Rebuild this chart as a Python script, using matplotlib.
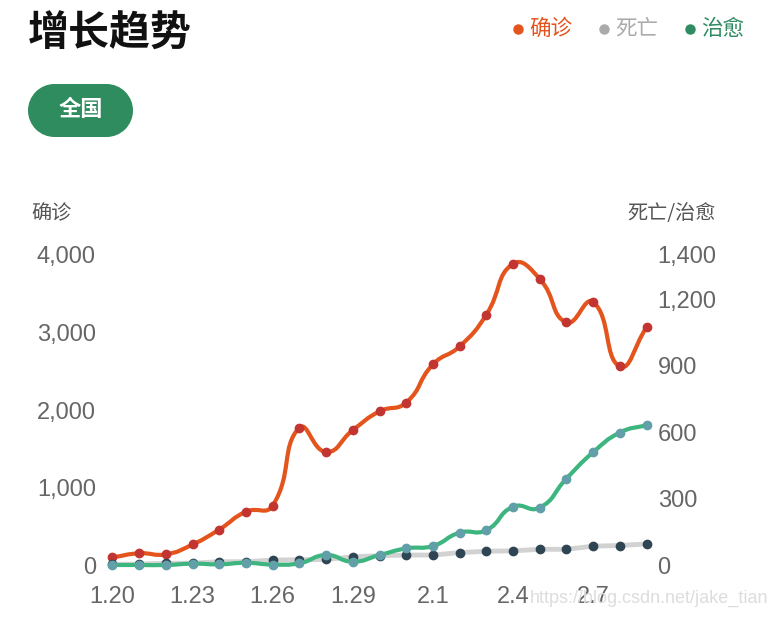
import matplotlib
matplotlib.use('Agg')
import matplotlib.pyplot as plt
from matplotlib.path import Path
from matplotlib.patches import PathPatch, Ellipse, Rectangle
import numpy as np

dates = ['1.20', '1.21', '1.22', '1.23', '1.24', '1.25', '1.26', '1.27', '1.28', '1.29',
         '1.30', '1.31', '2.1', '2.2', '2.3', '2.4', '2.5', '2.6', '2.7', '2.8', '2.9']
confirmed = [98, 151, 138, 265, 458, 688, 767, 1771, 1459, 1740, 1982, 2096, 2588, 2820,
             3230, 3886, 3692, 3130, 3394, 2562, 3065]
deaths = [3, 4, 8, 8, 15, 15, 22, 24, 25, 37, 42, 45, 45, 56, 62, 64, 71, 71, 85, 88, 95]
recovered = [0, 0, 0, 6, 3, 10, 2, 8, 45, 15, 45, 75, 86, 146, 157, 263, 259, 390, 509, 598, 632]
left_ticks = [0, 1000, 2000, 3000, 4000]
right_ticks = [0, 300, 600, 900, 1200, 1400]
xtick_idx = [0, 3, 6, 9, 12, 15, 18]

W, H = 777, 617
fig = plt.figure(figsize=(W / 100, H / 100), dpi=100)
fig.patch.set_facecolor('white')

CJK = ['Noto Sans CJK SC', 'DejaVu Sans']
NUM = ['Liberation Sans', 'Noto Sans CJK SC', 'DejaVu Sans']


def fx(px):
    return px / W


def fy(py):
    return 1 - py / H


left, right, top, bottom = 112.5, 646.5, 255, 565
ax = fig.add_axes([fx(left), fy(bottom), fx(right - left), (bottom - top) / H])
ax2 = ax.twinx()
x = np.arange(len(dates))
for a in (ax, ax2):
    a.set_xlim(0, len(dates) - 1)
    for s in a.spines.values():
        s.set_visible(False)
    a.patch.set_visible(False)
ax.set_ylim(0, 4000)
ax2.set_ylim(0, 1400)


def smooth_path(a, xs, ys, smooth=0.5):
    pts = a.transData.transform(np.column_stack([xs, ys]))
    n = len(pts)
    cps_in, cps_out = [], []
    for i in range(n):
        p = pts[i]
        prev = pts[i - 1] if i > 0 else p
        nxt = pts[i + 1] if i < n - 1 else p
        v = nxt - prev
        d0 = np.hypot(*(p - prev))
        d1 = np.hypot(*(nxt - p))
        s = d0 + d1
        if s > 0:
            d0, d1 = d0 / s, d1 / s
        cps_in.append(p - v * smooth * d0)
        cps_out.append(p + v * smooth * d1)
    verts = [pts[0]]
    codes = [Path.MOVETO]
    for i in range(n - 1):
        verts += [cps_out[i], cps_in[i + 1], pts[i + 1]]
        codes += [Path.CURVE4] * 3
    verts = a.transData.inverted().transform(np.array(verts))
    return Path(verts, codes)


fig.canvas.draw()

# confirmed (left axis)
ax.add_patch(PathPatch(smooth_path(ax, x, confirmed), fill=False, edgecolor='#e4541d',
                       lw=3.0, capstyle='round', joinstyle='round', clip_on=False, zorder=2))
ax.plot(x, confirmed, ls='none', marker='o', ms=6, mfc='#c23531', mec='#c23531',
        clip_on=False, zorder=3)

# deaths (right axis), straight line
ax2.plot(x, deaths, color='#d2d2d2', lw=3.5, solid_capstyle='round', clip_on=False, zorder=1)
ax2.plot(x, deaths, ls='none', marker='o', ms=6, mfc='#2f4554', mec='#2f4554',
         clip_on=False, zorder=2)

# recovered (right axis), smooth
ax2.add_patch(PathPatch(smooth_path(ax2, x, recovered), fill=False, edgecolor='#3db57e',
                        lw=3.0, capstyle='round', joinstyle='round', clip_on=False, zorder=3))
ax2.plot(x, recovered, ls='none', marker='o', ms=6, mfc='#61a0a8', mec='#61a0a8',
         clip_on=False, zorder=4)

# ticks
ax.set_xticks(xtick_idx)
ax.set_xticklabels([dates[i] for i in xtick_idx])
ax.set_yticks(left_ticks)
ax.set_yticklabels([f'{v:,}' for v in left_ticks])
ax2.set_yticks(right_ticks)
ax2.set_yticklabels([f'{v:,}' for v in right_ticks])
ax.tick_params(axis='x', length=0, pad=15, labelsize=17, labelcolor='#666666')
ax.tick_params(axis='y', length=0, pad=12, labelsize=17, labelcolor='#666666')
ax2.tick_params(axis='y', length=0, pad=8, labelsize=17, labelcolor='#666666')
for lab in ax.get_xticklabels() + ax.get_yticklabels() + ax2.get_yticklabels():
    lab.set_fontfamily(NUM)
ax2.tick_params(axis='x', length=0)

# axis titles
fig.text(fx(31), fy(214), '确诊', family=CJK, fontsize=14.5, color='#555555',
         ha='left', va='center')
fig.text(fx(716), fy(214), '死亡/治愈', family=CJK, fontsize=14.5, color='#555555',
         ha='right', va='center')

# title
fig.text(fx(28), fy(34), '增长趋势', family=CJK, fontsize=29.5, fontweight='bold',
         color='#111111', ha='left', va='center')

# legend
legend = [('确诊', '#e4541d', 518), ('死亡', '#aaaaaa', 604), ('治愈', '#2e8b62', 690)]
for name, col, px in legend:
    fig.lines.append(plt.Line2D([fx(px)], [fy(29)], transform=fig.transFigure, ls='none',
                                marker='o', ms=6.5, mfc=col, mec=col))
    fig.text(fx(px + 11), fy(29), name, family=CJK, fontsize=15.5, color=col,
             ha='left', va='center')

# button (pill)
bx0, bx1, by0, by1 = 28, 133, 84, 137
rad = (by1 - by0) / 2
fig.patches.append(Rectangle((fx(bx0 + rad), fy(by1)), fx(bx1 - bx0 - 2 * rad), (by1 - by0) / H,
                             transform=fig.transFigure, facecolor='#2f8c5e', edgecolor='none'))
for cx in (bx0 + rad, bx1 - rad):
    fig.patches.append(Ellipse((fx(cx), fy((by0 + by1) / 2)), fx(2 * rad), 2 * rad / H,
                               transform=fig.transFigure, facecolor='#2f8c5e', edgecolor='none'))
fig.text(fx((bx0 + bx1) / 2), fy(110), '全国', family=CJK, fontsize=16, fontweight='bold',
         color='white', ha='center', va='center')

# watermark
fig.text(fx(768), fy(598), 'https://blog.csdn.net/jake_tian', family=NUM, fontsize=13,
         color='#dddddd', ha='right', va='center')

fig.savefig('out.png', dpi=100, facecolor='white')
